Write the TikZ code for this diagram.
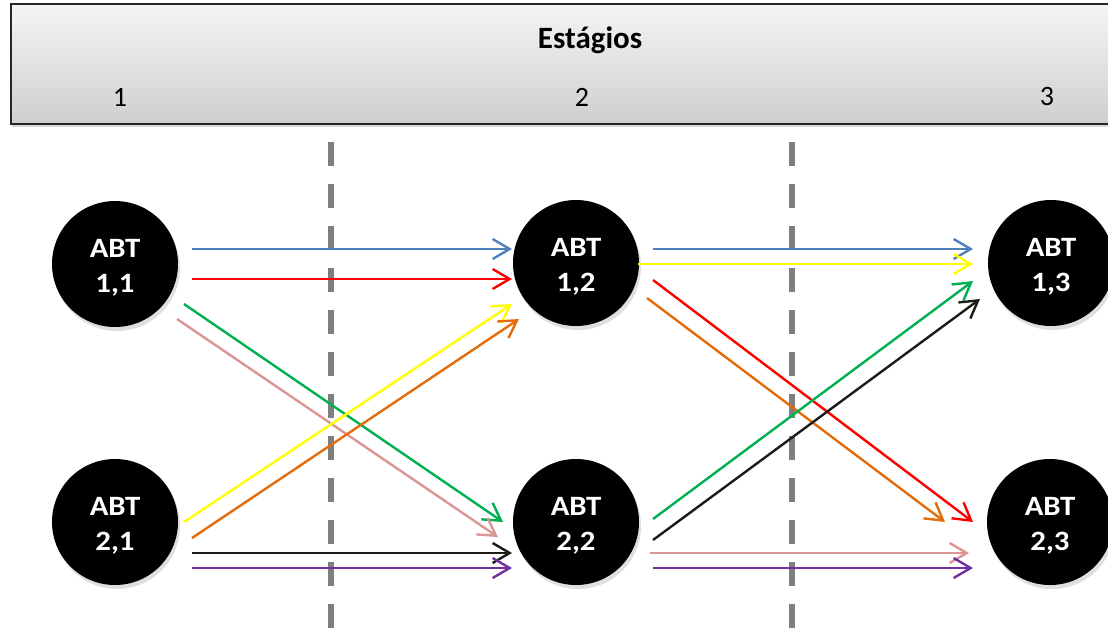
\documentclass[tikz,border=0pt]{standalone}
\usepackage{fontspec}
\setmainfont{Carlito}
\newfontfamily\widefont[FakeStretch=1.1]{Carlito}
\usetikzlibrary{arrows.meta,shadows}

\definecolor{cblue}{HTML}{4F81BD}
\definecolor{cred}{HTML}{FF0000}
\definecolor{cgreen}{HTML}{00B050}
\definecolor{cpink}{HTML}{D99694}
\definecolor{cyellow}{HTML}{FFFF00}
\definecolor{corange}{HTML}{E46C0A}
\definecolor{cblack}{HTML}{1C1C14}
\definecolor{cpurple}{HTML}{7030A0}
\definecolor{divider}{HTML}{7F7F7F}

\tikzset{
  abt/.style={circle, minimum size=126pt, inner sep=0pt, fill=black,
    drop shadow={shadow xshift=2pt, shadow yshift=-4pt, opacity=0.25},
    label={[abtlabel]center:#1}},
  abtlabel/.style={text=white, align=center, yshift=-4pt,
    font=\widefont\bfseries\fontsize{28}{35}\selectfont},
  flow/.style={line width=2.4pt, -{Straight Barb[length=17pt,width=20pt,line width=2.4pt]}},
  divline/.style={draw=divider, line width=6pt, dash pattern=on 24pt off 18pt},
  headtext/.style={font=\fontsize{28}{30}\selectfont, inner sep=0pt},
}

\begin{document}
\begin{tikzpicture}[x=1pt,y=-1pt]
  \useasboundingbox (0,0) rectangle (1108,630);

  % stage header bar
  \node[draw=black!85, line width=1.5pt, top color=gray!8, bottom color=gray!38,
        minimum width=1110pt, minimum height=120pt, anchor=north west,
        inner sep=0pt,
        drop shadow={shadow xshift=1pt, shadow yshift=-3pt, opacity=0.3}]
        (header) at (10,3) {};
  \node[headtext, font=\bfseries\fontsize{31}{32}\selectfont] (title) at (590,40) {Estágios};
  \node[headtext] (s1) at (120,97) {1};
  \node[headtext] (s2) at (582,97) {2};
  \node[headtext] (s3) at (1047,97) {3};

  % stage dividers
  \coordinate (d1top) at (331,142);
  \coordinate (d1bot) at (331,640);
  \coordinate (d2top) at (792,142);
  \coordinate (d2bot) at (792,640);
  \draw[divline] (d1top) -- (d1bot);
  \draw[divline] (d2top) -- (d2bot);

  % states
  \node[abt={ABT\\1,1}] (a11) at (115,264) {};
  \node[abt={ABT\\1,2}] (a12) at (576,263) {};
  \node[abt={ABT\\1,3}] (a13) at (1051,263) {};
  \node[abt={ABT\\2,1}] (a21) at (115,522) {};
  \node[abt={ABT\\2,2}] (a22) at (576,522) {};
  \node[abt={ABT\\2,3}] (a23) at (1050,522) {};

  % transitions from stage 1 to stage 2
  \draw[flow, cblue]   ([shift={(77,-15)}]a11.center) -- ([shift={(-64,-14)}]a12.center);
  \draw[flow, cred]    ([shift={(77,15)}]a11.center)  -- ([shift={(-64,16)}]a12.center);
  \draw[flow, cgreen]  ([shift={(69,40)}]a11.center)  -- ([shift={(-73,0)}]a22.center);
  \draw[flow, cpink]   ([shift={(62,55)}]a11.center)  -- ([shift={(-78,15)}]a22.center);
  \draw[flow, cyellow] ([shift={(69,0)}]a21.center)   -- ([shift={(-64,41)}]a12.center);
  \draw[flow, corange] ([shift={(77,16)}]a21.center)  -- ([shift={(-57,56)}]a12.center);
  \draw[flow, cblack]  ([shift={(77,31)}]a21.center)  -- ([shift={(-64,31)}]a22.center);
  \draw[flow, cpurple] ([shift={(77,46)}]a21.center)  -- ([shift={(-64,46)}]a22.center);

  % transitions from stage 2 to stage 3
  \draw[flow, cblue]   ([shift={(77,-14)}]a12.center) -- ([shift={(-78,-14)}]a13.center);
  \draw[flow, cyellow] ([shift={(62,1)}]a12.center)   -- ([shift={(-78,1)}]a13.center);
  \draw[flow, cred]    ([shift={(77,17)}]a12.center)  -- ([shift={(-77,0)}]a23.center);
  \draw[flow, corange] ([shift={(71,35)}]a12.center)  -- ([shift={(-105,0)}]a23.center);
  \draw[flow, cgreen]  ([shift={(77,-3)}]a22.center)  -- ([shift={(-78,18)}]a13.center);
  \draw[flow, cblack]  ([shift={(77,18)}]a22.center)  -- ([shift={(-71,36)}]a13.center);
  \draw[flow, cpink]   ([shift={(74,31)}]a22.center)  -- ([shift={(-81,31)}]a23.center);
  \draw[flow, cpurple] ([shift={(77,46)}]a22.center)  -- ([shift={(-77,46)}]a23.center);
\end{tikzpicture}
\end{document}
